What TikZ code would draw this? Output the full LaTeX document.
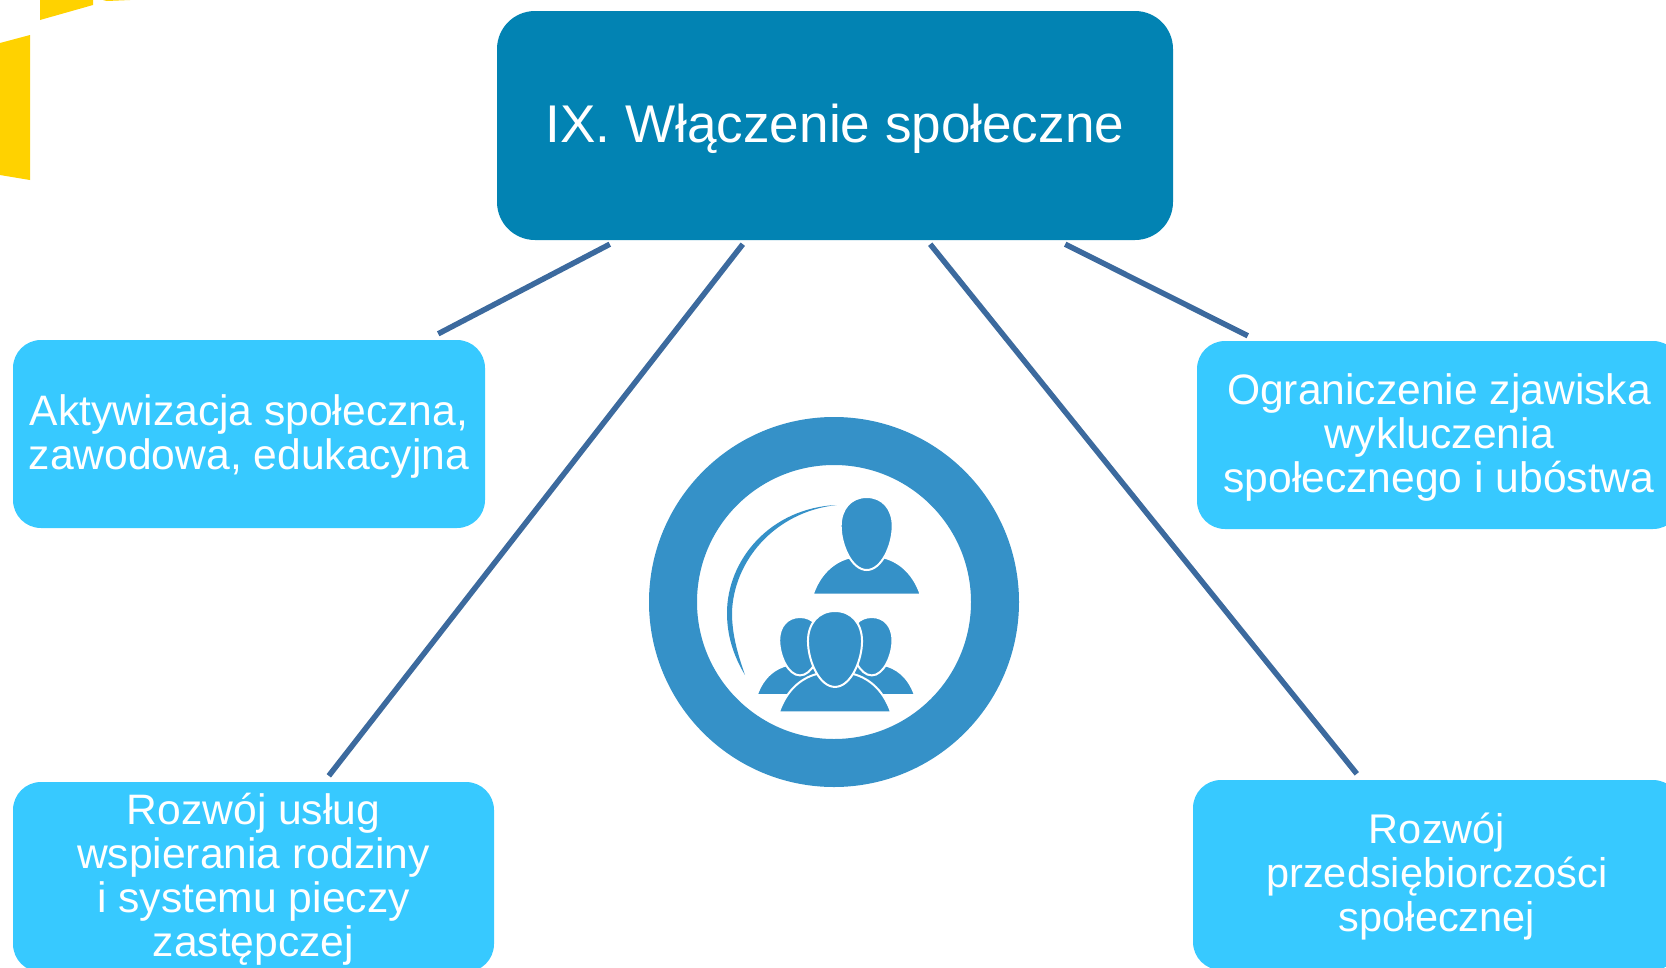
\documentclass[tikz,border=0pt]{standalone}
\usepackage{fontspec}
\setmainfont{Liberation Sans}
\definecolor{mainblue}{HTML}{0283B3}
\definecolor{boxblue}{HTML}{37C9FF}
\definecolor{linkblue}{HTML}{3C6A9E}
\definecolor{iconblue}{HTML}{3591C8}
\definecolor{cornergold}{HTML}{FFD200}
\tikzset{
	mainbox/.style={fill=mainblue,text=white,rounded corners=38pt,minimum width=676pt,minimum height=229pt,text height=45pt,font=\fontsize{53.1}{60}\selectfont},
	subbox/.style={fill=boxblue,text=white,rounded corners=28pt,align=center,font=\fontsize{42.6}{44}\selectfont},
	link/.style={draw=linkblue,line width=5.5pt},
	person/.pic={
		\fill[iconblue,draw=white,line width=2pt] (-54,97.5) .. controls (-46,74) and (-30,63) .. (-15,60) -- (15,60) .. controls (30,63) and (46,74) .. (54,97.5) -- cycle;
		\fill[iconblue,draw=white,line width=2pt] (0,0) .. controls (16,0) and (26,12) .. (26,29) .. controls (26,48) and (15,73) .. (0,73) .. controls (-15,73) and (-26,48) .. (-26,29) .. controls (-26,12) and (-16,0) .. (0,0) -- cycle;
	}
}
\begin{document}
\begin{tikzpicture}[x=1pt,y=-1pt]
	\useasboundingbox (0,0) rectangle (1666,967);
	\clip (0,0) rectangle (1666,967);

	\fill[cornergold] (0,43) -- (30,35) -- (30,180) -- (0,175) -- cycle;
	\fill[cornergold] (40,0) -- (93,0) -- (93,5) -- (40,20) -- cycle;
	\fill[cornergold] (103,0) -- (130,0) -- (107,1) -- cycle;

	\node[mainbox] (main) at (835,125.5) {IX. Włączenie społeczne};
	\node[subbox,minimum width=472pt,minimum height=188pt,text height=79pt] (activation) at (249,434) {Aktywizacja społeczna,\\zawodowa, edukacyjna};
	\node[subbox,minimum width=484pt,minimum height=188pt,text height=123pt] (exclusion) at (1439,435) {Ograniczenie zjawiska\\wykluczenia\\społecznego i ubóstwa};
	\node[subbox,minimum width=481pt,minimum height=190pt,text height=167pt] (family) at (253.5,877) {Rozwój usług\\wspierania rodziny\\i systemu pieczy\\zastępczej};
	\node[subbox,minimum width=488pt,minimum height=190pt,text height=122pt,font=\fontsize{41.5}{44}\selectfont] (enterprise) at (1437,875) {Rozwój\\przedsiębiorczości\\społecznej};

	\draw[link] ([xshift=113pt,yshift=-4pt]main.south west) -- ([xshift=-47pt,yshift=6pt]activation.north east);
	\draw[link] ([xshift=246pt,yshift=-4pt]main.south west) -- ([xshift=316pt,yshift=6pt]family.north west);
	\draw[link] ([xshift=-243pt,yshift=-4pt]main.south east) -- ([xshift=164pt,yshift=6pt]enterprise.north west);
	\draw[link] ([xshift=-108pt,yshift=-4pt]main.south east) -- ([xshift=51pt,yshift=5pt]exclusion.north west);

	\draw[iconblue,line width=48pt] (834,602) circle (161);
	\fill[iconblue] (836.7,505) .. controls (770,508) and (727,560) .. (727,613) .. controls (727,635) and (733,655) .. (745,675) .. controls (738,655) and (732,635) .. (732,613) .. controls (733,563) and (773,512) .. (836.7,505) -- cycle;
	\pic at (866.7,497) {person};
	\pic[scale=.8] at (800,617) {person};
	\pic[scale=.8] at (871.7,617) {person};
	\pic[scale=1.04] at (835,611) {person};
\end{tikzpicture}
\end{document}
